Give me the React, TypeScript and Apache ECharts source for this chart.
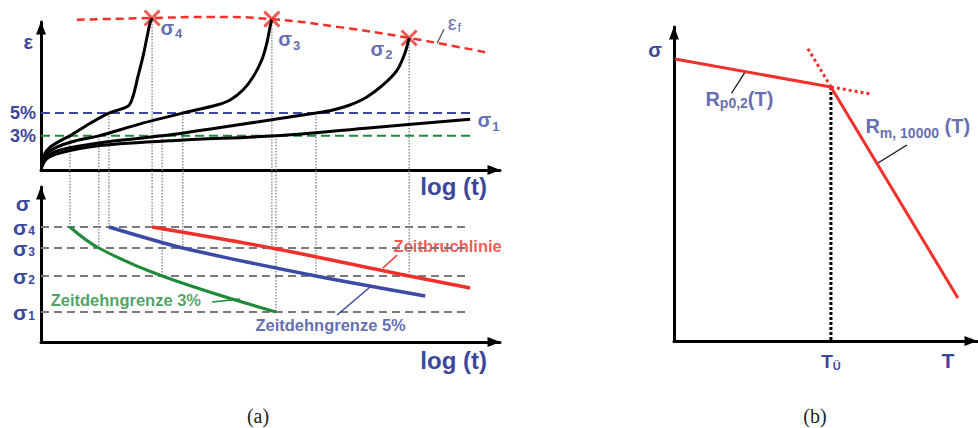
import React, { useEffect, useRef } from "react";
import * as echarts from "echarts";

type Pt = [number, number];

const FONT = "'Liberation Sans', Arial, sans-serif";
const SERIF = "'Liberation Serif', 'DejaVu Serif', serif";
const BLUE = "#3a479d";
const RED = "#f0302a";
const GREEN = "#1e8b3b";
const GRAY = "#7a7a7a";
const DOT_GRAY = "#808080";

// ---- (a) upper panel: creep strain ε in % over log(t) ----
const creepSigma1: Pt[] = [[0.02, 0.3], [0.13, 1.0], [0.41, 1.5], [1.29, 2.15], [3.03, 2.62], [5.12, 3.0], [7.2, 3.72], [9.35, 4.45]];
const creepSigma2: Pt[] = [[0.02, 0.3], [0.11, 1.1], [0.41, 1.75], [1.29, 2.4], [2.64, 3.0], [4.34, 4.0], [5.99, 5.0], [6.36, 5.27], [6.73, 5.71], [7.1, 6.41], [7.45, 7.47], [7.76, 8.78], [7.93, 10.28], [8.02, 11.6]];
const creepSigma3: Pt[] = [[0.02, 0.3], [0.09, 1.25], [0.31, 1.95], [0.74, 2.55], [1.26, 3.0], [2.16, 4.05], [3.09, 5.0], [3.83, 5.71], [4.12, 6.15], [4.4, 7.03], [4.62, 8.17], [4.81, 9.66], [4.92, 11.15], [4.99, 12.56], [5.03, 13.25]];
const creepSigma4: Pt[] = [[0.02, 0.3], [0.07, 1.35], [0.2, 2.0], [0.41, 2.55], [0.63, 3.0], [1.07, 4.1], [1.48, 5.0], [1.9, 5.62], [2.0, 6.41], [2.11, 8.17], [2.22, 9.93], [2.31, 11.68], [2.375, 12.9], [2.42, 13.35]];
const fractureStrain: Pt[] = [[0.78, 13.2], [2.42, 13.35], [3.7, 13.45], [5.03, 13.25], [6.5, 12.55], [8.02, 11.6], [9.74, 10.3]];
const strainLimits = [3, 5];
const strainLineEnd = 9.35;

// ---- per stress level σ1..σ4: stress value and characteristic times ----
const stressNames = ["1", "2", "3", "4"];
const stressLevels = [30, 66, 94, 115];
const timeTo3: (number | null)[] = [5.12, 2.64, 1.26, 0.63];
const timeTo5: (number | null)[] = [null, 5.99, 3.09, 1.48];
const timeToRupture: (number | null)[] = [null, 8.02, 5.03, 2.42];
const strainAtRupture: (number | null)[] = [null, 11.6, 13.25, 13.35];

// ---- (a) lower panel: tails of the 5 % and rupture lines ----
const limit5Tail: Pt = [8.37, 46];
const ruptureTail: Pt = [9.35, 54];

// ---- (b): yield strength and creep strength over temperature ----
const transitionPoint: Pt = [51.8, 80.9];
const yieldLine: Pt[] = [[0.33, 89.8], transitionPoint];
const yieldExtension: Pt[] = [transitionPoint, [65.3, 78.6]];
const creepStrengthLine: Pt[] = [transitionPoint, [93.7, 13.7]];
const creepStrengthExtension: Pt[] = [[44.2, 93.1], transitionPoint];

// leader lines from the labels to their curves
const leaderEpsF: Pt[] = [[8.63, 11.13], [8.78, 12.36]];
const leader3: Pt[] = [[3.73, 40], [4.34, 43]];
const leaderRupture: Pt[] = [[7.45, 74], [7.76, 87]];
const leader5: Pt[] = [[6.45, 27], [7.17, 55]];
const leaderYield: Pt[] = [[19.0, 78.9], [23.7, 86.0]];
const leaderCreep: Pt[] = [[67.3, 56.7], [76.9, 62.4]];

const STRAIN_MAX = 13;
const STRESS_MAX = 155;
const STRAIN_BELOW_AXIS = -1.5; // reaches the top of the lower panel

const sigmaRich = {
  g: { fontFamily: FONT, fontSize: 20, fontWeight: "bold", color: BLUE },
  s: { fontFamily: FONT, fontSize: 13, fontWeight: "bold", color: BLUE, padding: [12, 0, 0, 1] },
};

function line(grid: number, data: Pt[], color: string, width: number, type: any = "solid", smooth: number | boolean = false): any {
  return {
    type: "line",
    xAxisIndex: grid,
    yAxisIndex: grid,
    data,
    symbol: "none",
    showSymbol: false,
    smooth,
    clip: false,
    silent: true,
    lineStyle: { color, width, type, cap: "butt" },
  };
}

function textAt(grid: number, pt: Pt, text: string, rich: any, position: string = "right"): any {
  return {
    type: "scatter",
    xAxisIndex: grid,
    yAxisIndex: grid,
    data: [pt],
    symbolSize: 1,
    itemStyle: { color: "transparent" },
    clip: false,
    silent: true,
    label: { show: true, position, distance: 0, formatter: text, rich },
  };
}

function axisBase(gridIndex: number, min: number, max: number): any {
  return {
    type: "value",
    gridIndex,
    min,
    max,
    nameMoveOverlap: false,
    axisLine: {
      show: true,
      onZero: false,
      symbol: ["none", "triangle"],
      symbolSize: [10, 13],
      symbolOffset: [0, -6],
      lineStyle: { color: "#000", width: 3 },
    },
    axisTick: { show: false },
    axisLabel: { show: false },
    splitLine: { show: false },
  };
}

const nameStyle = (size: number, extra: any) => ({
  fontFamily: FONT,
  fontSize: size,
  fontWeight: "bold",
  color: BLUE,
  ...extra,
});

function buildOption(): any {
  const series: any[] = [];

  // dotted projections from the creep curves to the stress levels
  stressLevels.forEach((s, i) => {
    const events: [number | null, number | null][] = [
      [timeTo3[i], strainLimits[0]],
      [timeTo5[i], strainLimits[1]],
      [timeToRupture[i], strainAtRupture[i]],
    ];
    events.forEach(([t, e]) => {
      if (t == null || e == null) return;
      series.push(line(0, [[t, e], [t, STRAIN_BELOW_AXIS]], DOT_GRAY, 1.3, [1.5, 1.5]));
      series.push(line(1, [[t, STRESS_MAX], [t, s]], DOT_GRAY, 1.3, [1.5, 1.5]));
    });
  });

  // stress levels
  stressLevels.forEach((s) => {
    series.push(line(1, [[0, s], [strainLineEnd, s]], GRAY, 2, [8, 5]));
  });

  // 3 % and 5 % strain limits
  series.push(line(0, [[0, strainLimits[0]], [strainLineEnd, strainLimits[0]]], GREEN, 2, [9, 5]));
  series.push(line(0, [[0, strainLimits[1]], [strainLineEnd, strainLimits[1]]], BLUE, 2, [9, 5]));

  // creep curves
  [creepSigma1, creepSigma2, creepSigma3, creepSigma4].forEach((c) => {
    series.push(line(0, c, "#000", 3, "solid", 0.3));
  });

  // fracture strain
  series.push(line(0, fractureStrain, RED, 2.5, [8, 5], 0.5));

  // rupture marks
  const rupturePts: Pt[] = [];
  timeToRupture.forEach((t, i) => {
    const e = strainAtRupture[i];
    if (t != null && e != null) rupturePts.push([t, e]);
  });
  series.push({
    type: "scatter",
    xAxisIndex: 0,
    yAxisIndex: 0,
    data: rupturePts,
    symbol: "path://M0,0L10,10M10,0L0,10",
    symbolSize: 15,
    clip: false,
    silent: true,
    itemStyle: { color: "none", borderColor: RED, borderWidth: 3 },
  });

  // lower panel: creep limits and rupture line
  const limit3Line: Pt[] = [];
  const limit5Line: Pt[] = [];
  const ruptureLine: Pt[] = [];
  for (let i = stressLevels.length - 1; i >= 0; i--) {
    const t3 = timeTo3[i];
    const t5 = timeTo5[i];
    const tr = timeToRupture[i];
    if (t3 != null) limit3Line.push([t3, stressLevels[i]]);
    if (t5 != null) limit5Line.push([t5, stressLevels[i]]);
    if (tr != null) ruptureLine.push([tr, stressLevels[i]]);
  }
  limit5Line.push(limit5Tail);
  ruptureLine.push(ruptureTail);
  series.push(line(1, limit3Line, GREEN, 3, "solid", 0.4));
  series.push(line(1, limit5Line, "#3b4ba6", 3.5, "solid", 0.25));
  series.push(line(1, ruptureLine, RED, 3.5, "solid", 0.25));

  // leaders
  series.push(line(0, leaderEpsF, "#555", 1.3));
  series.push(line(1, leader3, GREEN, 1.5));
  series.push(line(1, leaderRupture, RED, 1.5));
  series.push(line(1, leader5, "#3b4ba6", 1.5));
  series.push(line(2, leaderYield, "#111", 1.3));
  series.push(line(2, leaderCreep, "#111", 1.3));

  // (b)
  series.push(line(2, [transitionPoint, [transitionPoint[0], 0]], "#000", 3, [3, 2]));
  series.push(line(2, yieldExtension, RED, 3, [3, 3]));
  series.push(line(2, creepStrengthExtension, RED, 3, [3, 3]));
  series.push(line(2, yieldLine, RED, 3));
  series.push(line(2, creepStrengthLine, RED, 3));

  // labels
  series.push(textAt(0, [2.59, 12.5], "{g|σ}{s|4}", sigmaRich));
  series.push(textAt(0, [5.16, 11.5], "{g|σ}{s|3}", sigmaRich));
  series.push(textAt(0, [7.17, 10.63], "{g|σ}{s|2}", sigmaRich));
  series.push(textAt(0, [9.5, 4.39], "{g|σ}{s|1}", sigmaRich));
  series.push(textAt(0, [8.85, 12.9], "{g|ε}{s|f}", {
    g: { fontFamily: FONT, fontSize: 20, color: BLUE },
    s: { fontFamily: FONT, fontSize: 13, color: BLUE, padding: [9, 0, 0, 1] },
  }));

  const plain = (color: string) => ({ t: { fontFamily: FONT, fontSize: 16.5, fontWeight: "bold", color } });
  series.push(textAt(1, [0.2, 42], "{t|Zeitdehngrenze 3%}", plain(GREEN)));
  series.push(textAt(1, [7.67, 96.5], "{t|Zeitbruchlinie}", plain(RED)));
  series.push(textAt(1, [4.66, 17], "{t|Zeitdehngrenze 5%}", plain(BLUE)));

  const rRich = (pad: number) => ({
    m: { fontFamily: FONT, fontSize: 20, fontWeight: "bold", color: BLUE },
    s: { fontFamily: FONT, fontSize: 14, fontWeight: "bold", color: BLUE, padding: [pad, 0, 0, 0] },
  });
  series.push(textAt(2, [10.2, 77.1], "{m|R}{s|p0,2}{m|(T)}", rRich(9)));
  series.push(textAt(2, [63.0, 68.5], "{m|R}{s|m, 10000}{m| (T)}", rRich(14)));

  return {
    animation: false,
    backgroundColor: "#ffffff",
    grid: [
      { left: 41, top: 22, width: 459, height: 148 },
      { left: 41, top: 187, width: 459, height: 155 },
      { left: 674, top: 27, width: 303, height: 314 },
    ],
    xAxis: [
      {
        ...axisBase(0, 0, 10),
        name: "log (t)",
        nameLocation: "end",
        nameGap: -13,
        nameTextStyle: nameStyle(24, { align: "right", verticalAlign: "top", padding: [4, 0, 0, 0] }),
      },
      {
        ...axisBase(1, 0, 10),
        name: "log (t)",
        nameLocation: "end",
        nameGap: -13,
        nameTextStyle: nameStyle(24, { align: "right", verticalAlign: "top", padding: [6, 0, 0, 0] }),
      },
      {
        ...axisBase(2, 0, 100),
        name: "T",
        nameLocation: "end",
        nameGap: -29,
        nameTextStyle: nameStyle(21, { align: "center", verticalAlign: "top", padding: [9, 0, 0, 0] }),
        axisLabel: {
          show: true,
          customValues: [transitionPoint[0]],
          formatter: () => "{t|T}{u|Ü}",
          margin: 10,
          rich: {
            t: { fontFamily: FONT, fontSize: 19, fontWeight: "bold", color: BLUE },
            u: { fontFamily: FONT, fontSize: 11, fontWeight: "bold", color: BLUE, padding: [9, 0, 0, 0] },
          },
        },
      },
    ],
    yAxis: [
      {
        ...axisBase(0, 0, STRAIN_MAX),
        name: "ε",
        nameLocation: "end",
        nameGap: -20,
        nameTextStyle: nameStyle(20, { align: "right", verticalAlign: "middle", padding: [0, 8, 0, 0] }),
        axisLabel: {
          show: true,
          hideOverlap: false,
          customValues: strainLimits,
          formatter: (v: number) => `${v}%`,
          margin: 5,
          fontFamily: FONT,
          fontSize: 18,
          fontWeight: "bold",
          color: BLUE,
        },
      },
      {
        ...axisBase(1, 0, STRESS_MAX),
        name: "σ",
        nameLocation: "end",
        nameGap: -16,
        nameTextStyle: nameStyle(21, { align: "right", verticalAlign: "middle", padding: [0, 11, 0, 0] }),
        axisLabel: {
          show: true,
          hideOverlap: false,
          customValues: stressLevels,
          formatter: (v: number) => `{g|σ}{s|${stressNames[stressLevels.indexOf(v)]}}`,
          margin: 6,
          rich: {
            g: { ...sigmaRich.g, fontSize: 21, lineHeight: 14 },
            s: { ...sigmaRich.s, fontSize: 12, lineHeight: 14, padding: [8, 0, 0, 1] },
          },
        },
      },
      {
        ...axisBase(2, 0, 100),
        name: "σ",
        nameLocation: "end",
        nameGap: -23,
        nameTextStyle: nameStyle(20, { align: "right", verticalAlign: "middle", padding: [0, 12, 0, 0] }),
      },
    ],
    graphic: [
      {
        type: "text",
        x: 258,
        y: 416,
        style: { text: "(a)", fontFamily: SERIF, fontSize: 20, fill: "#222", align: "center", verticalAlign: "middle" },
      },
      {
        type: "text",
        x: 815,
        y: 416,
        style: { text: "(b)", fontFamily: SERIF, fontSize: 20, fill: "#222", align: "center", verticalAlign: "middle" },
      },
    ],
    series,
  };
}

export default function App() {
  const ref = useRef<HTMLDivElement>(null);
  useEffect(() => {
    if (!ref.current) return;
    const chart = echarts.init(ref.current, undefined, { renderer: "svg" });
    chart.setOption(buildOption());
    return () => chart.dispose();
  }, []);
  return (
    <div
      ref={ref}
      style={{ position: "absolute", left: 0, top: 0, width: 978, height: 428, background: "#fff" }}
    />
  );
}
